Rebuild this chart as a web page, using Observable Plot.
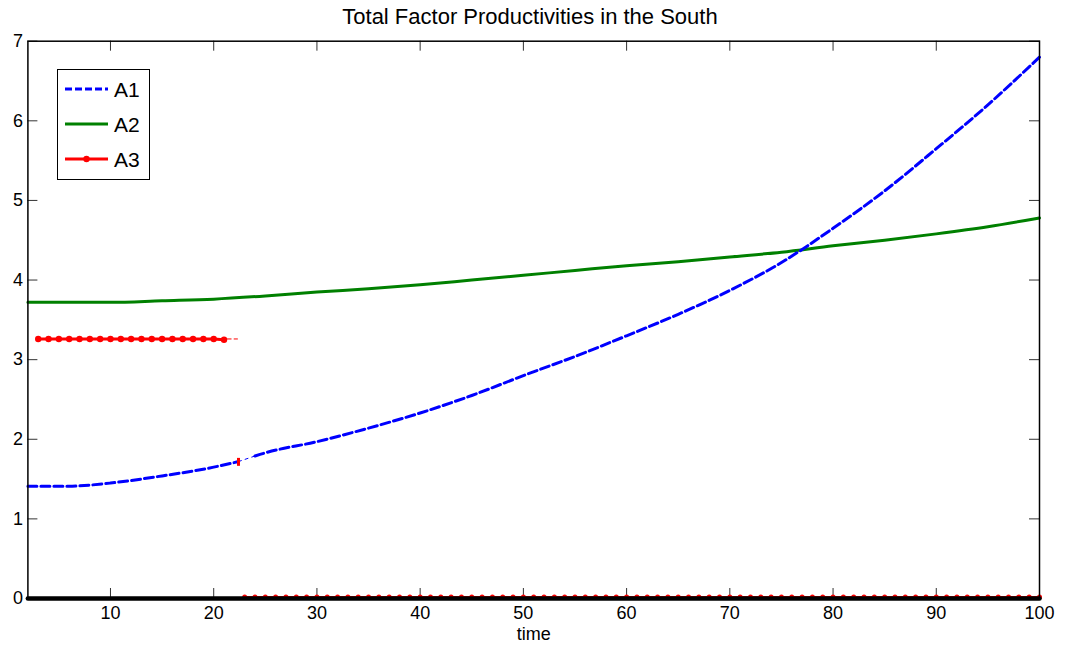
<!DOCTYPE html>
<html><head><meta charset="utf-8">
<script src="https://cdn.jsdelivr.net/npm/d3@7"></script>
<script src="https://cdn.jsdelivr.net/npm/@observablehq/plot@0.6"></script>
<style>
body{margin:0;background:#fff;font-family:"Liberation Sans",Arial,sans-serif;}
#wrap{position:relative;width:1067px;height:650px;overflow:hidden;}
#title{position:absolute;top:6px;left:0;width:1060px;text-align:center;font-size:22px;line-height:22px;color:#000;}
#legend{position:absolute;left:57px;top:69px;}
</style></head><body>
<div id="wrap"><div id="title">Total Factor Productivities in the South</div></div>
<script>
// ---- data ----
const xTicks = [10,20,30,40,50,60,70,80,90,100];
const yTicks = [0,1,2,3,4,5,6,7];

// A1 (blue dashed)
const tA1 = [2,4,6,7,10,15,20,22.4,24,25,30,35,40,45,50,55,60,65,70,75,80,85,90,95,100];
const vA1 = [1.41,1.41,1.41,1.415,1.45,1.54,1.65,1.72,1.79,1.83,1.97,2.14,2.33,2.55,2.80,3.04,3.30,3.57,3.87,4.22,4.65,5.12,5.65,6.20,6.80];

// A2 (green solid)
const tA2 = [2,10,15,20,25,30,35,40,45,50,55,60,65,70,75,80,85,90,95,100];
const vA2 = [3.72,3.72,3.74,3.76,3.80,3.85,3.89,3.94,4.00,4.06,4.12,4.18,4.23,4.29,4.35,4.43,4.50,4.58,4.67,4.78];

// A3 (red with markers): high plateau, then near zero
const tA3hi = [3,4,5,6,7,8,9,10,11,12,13,14,15,16,17,18,19,20,21];
const vA3hi = [3.26,3.26,3.26,3.26,3.26,3.26,3.26,3.26,3.26,3.26,3.26,3.26,3.26,3.26,3.26,3.26,3.26,3.26,3.25];
const tA3tail = [21.3,22.3];
const vA3tail = [3.26,3.26];
const tA3jump = [22.4];
const vA3jumpLo = [1.66], vA3jumpHi = [1.76];
const tA3lo = d3.range(23,101);
const vA3lo = tA3lo.map(()=>0.02);

// black zero line
const tZero = [2,100];
const vZero = [0,0];

// ---- build tables ----
const rows = (ts, vs) => ts.map((t,i)=>({t, v: vs[i]}));
const A1 = rows(tA1,vA1), A2 = rows(tA2,vA2);
const A1a = A1.filter(d=>d.t<=22.4), A1gap = A1.filter(d=>d.t>=22.4 && d.t<=24), A1b = A1.filter(d=>d.t>=24);
const A3hi = rows(tA3hi,vA3hi), A3tail = rows(tA3tail,vA3tail), A3lo = rows(tA3lo,vA3lo);
const Z = rows(tZero,vZero);

const W=1067,H=650,mL=27.4,mR=28,mT=40.7,mB=52;
const innerW=W-mL-mR, innerH=H-mT-mB, tk=10;
const font = '"Liberation Sans",Arial,sans-serif';
const BLUE="#0000ff", GREEN="#008000", RED="#ff0000";

const chart = Plot.plot({
  width:W, height:H, marginLeft:mL, marginRight:mR, marginTop:mT, marginBottom:mB,
  style:{fontFamily:font, fontSize:"18px", color:"#000", background:"transparent", overflow:"visible"},
  x:{domain:[2,100]}, y:{domain:[0,7]},
  marks:[
    Plot.axisX(xTicks,{tickSize:0, tickPadding:8, fontSize:18, tickFormat:d=>String(d), label:null}),
    Plot.axisY(yTicks,{tickSize:0, tickPadding:5, fontSize:18, tickFormat:d=>String(d), label:null}),
    Plot.text(["time"],{frameAnchor:"bottom", dy:36, fontSize:18, lineAnchor:"middle"}),
    Plot.tickX(xTicks,{x:d=>d, insetTop: innerH-tk, stroke:"#333", strokeWidth:1}),
    Plot.tickX(xTicks,{x:d=>d, insetBottom: innerH-tk, stroke:"#333", strokeWidth:1}),
    Plot.tickY(yTicks,{y:d=>d, insetRight: innerW-tk, stroke:"#333", strokeWidth:1}),
    Plot.tickY(yTicks,{y:d=>d, insetLeft: innerW-tk, stroke:"#333", strokeWidth:1}),
    Plot.line(A2,{x:"t", y:"v", stroke:GREEN, strokeWidth:3, curve:"monotone-x"}),
    Plot.line(A1a,{x:"t", y:"v", stroke:BLUE, strokeWidth:3, strokeDasharray:"9,4", curve:"monotone-x"}),
    Plot.line(A1gap,{x:"t", y:"v", stroke:BLUE, strokeWidth:1, strokeDasharray:"3,4"}),
    Plot.line(A1b,{x:"t", y:"v", stroke:BLUE, strokeWidth:3, strokeDasharray:"9,4", curve:"monotone-x"}),
    Plot.line(A3hi,{x:"t", y:"v", stroke:RED, strokeWidth:3}),
    Plot.dot(A3hi,{x:"t", y:"v", r:3.2, fill:RED}),
    Plot.line(A3tail,{x:"t", y:"v", stroke:RED, strokeWidth:1, strokeDasharray:"4,3"}),
    Plot.ruleX(tA3jump,{x:d=>d, y1:vA3jumpLo[0], y2:vA3jumpHi[0], stroke:RED, strokeWidth:3}),
    Plot.line(A3lo,{x:"t", y:"v", stroke:RED, strokeWidth:2}),
    Plot.dot(A3lo,{x:"t", y:"v", r:2.5, fill:RED}),
    Plot.line(Z,{x:"t", y:"v", stroke:"#000", strokeWidth:4.6}),
    Plot.frame({stroke:"#000", strokeWidth:1.5})
  ]
});
chart.style.position="absolute"; chart.style.left="0"; chart.style.top="0";
const wrap = document.getElementById("wrap");
wrap.insertBefore(chart, wrap.firstChild);

// ---- legend ----
const legendItems = [
  {label:"A1", color:BLUE, dash:"7,3", marker:false},
  {label:"A2", color:GREEN, dash:null, marker:false},
  {label:"A3", color:RED, dash:null, marker:true}
];
const lg = d3.select(wrap).append("svg").attr("id","legend").attr("width",93).attr("height",112);
lg.append("rect").attr("x",0.5).attr("y",0.5).attr("width",92).attr("height",110).attr("fill","#fff").attr("stroke","#000").attr("stroke-width",1);
legendItems.forEach((d,i)=>{
  const y = 20 + i*35;
  lg.append("line").attr("x1",8).attr("x2",51).attr("y1",y).attr("y2",y)
    .attr("stroke",d.color).attr("stroke-width",3).attr("stroke-dasharray",d.dash);
  if(d.marker) lg.append("circle").attr("cx",29.5).attr("cy",y).attr("r",3.2).attr("fill",d.color);
  lg.append("text").attr("x",57).attr("y",y).attr("dy","0.36em").attr("font-size",21)
    .attr("font-family",font).attr("fill","#000").text(d.label);
});
</script></body></html>
